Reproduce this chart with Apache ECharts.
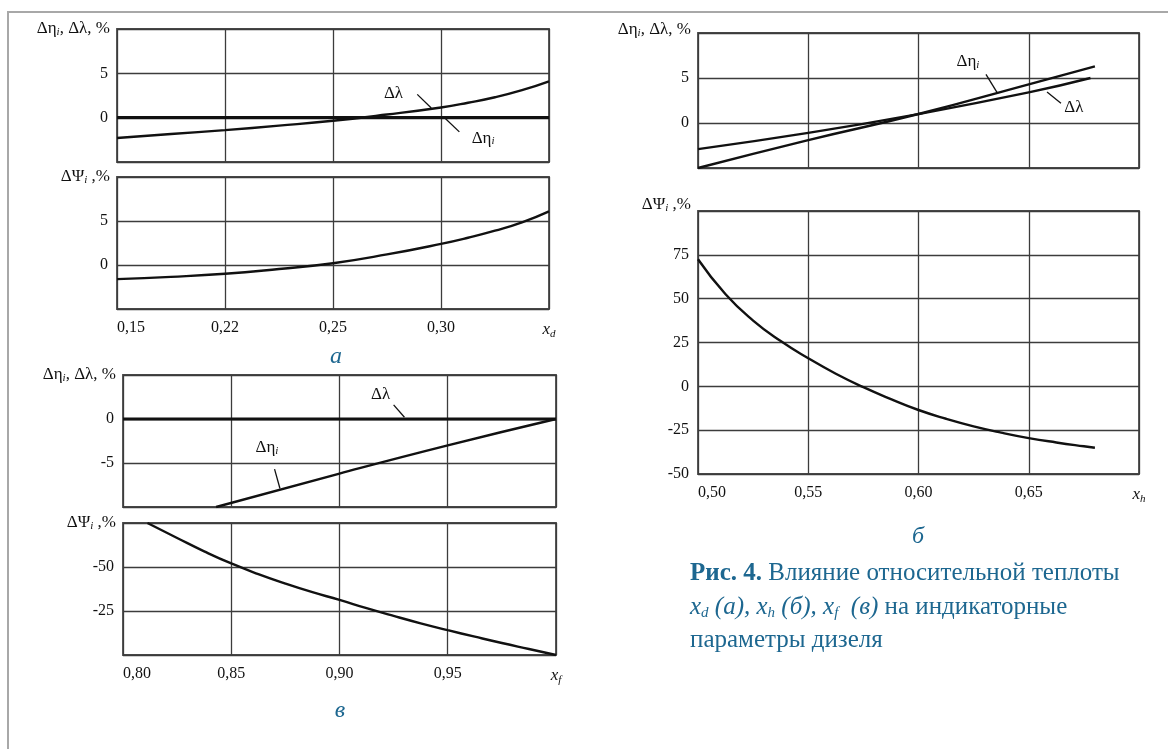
<!DOCTYPE html>
<html>
<head>
<meta charset="utf-8">
<script src="https://cdn.jsdelivr.net/npm/echarts@6/dist/echarts.min.js"></script>
<style>
  html, body { margin: 0; padding: 0; background: #fff; }
  #chart { width: 1168px; height: 749px; }
</style>
</head>
<body>
<div id="chart"></div>
<script>
// ---- Panel а: influence of x_d (grid positions 0..4 carry the tick labels below)
const xdTickLabels = ['0,15', '0,22', '0,25', '0,30'];
const xdLambda = [[0, -2.3], [0.5, -1.85], [1, -1.4], [1.5, -0.9], [2, -0.35], [2.5, 0.35], [3, 1.15], [3.25, 1.68], [3.5, 2.3], [3.75, 3.1], [4, 4.1]];
const xdEta = [[0, 0], [4, 0]];
const xdPsi = [[0, -1.6], [0.5, -1.35], [1, -1.0], [1.5, -0.45], [2, 0.2], [2.5, 1.2], [3, 2.4], [3.25, 3.1], [3.5, 3.9], [3.75, 4.85], [4, 6.1]];

// ---- Panel б: influence of x_h
const xhEta = [[0.50, -5.0], [0.55, -1.9], [0.60, 1.0], [0.65, 4.3], [0.68, 6.3]];
const xhLambda = [[0.50, -2.9], [0.55, -1.1], [0.60, 1.0], [0.65, 3.4], [0.678, 5.0]];
const xhPsi = [[0.50, 72.5], [0.5125, 52.5], [0.525, 37.5], [0.5375, 25.8], [0.55, 16], [0.5625, 7.2], [0.575, -0.5],
  [0.5875, -7.3], [0.60, -13.5], [0.6125, -18.5], [0.625, -22.8], [0.6375, -26.4], [0.65, -29.5], [0.6625, -32.0], [0.675, -34.2], [0.68, -35]];

// ---- Panel в: influence of x_f
const xfLambda = [[0.80, 0], [1.00, 0]];
const xfEta = [[0.843, -10], [0.90, -6.2], [0.95, -3.0], [1.00, 0]];
const xfPsi = [[0.8113, -75], [0.825, -66.5], [0.8375, -58.9], [0.85, -52.0], [0.8625, -46.0], [0.875, -40.6], [0.8875, -35.7],
  [0.90, -31.3], [0.9125, -26.6], [0.925, -22.2], [0.9375, -18.0], [0.95, -14.1], [0.9625, -10.4], [0.975, -6.8], [0.9875, -3.4], [1.00, 0]];

const SERIF = "'Liberation Serif', 'DejaVu Serif', serif";
const INK = '#111';
const GRIDC = '#3c3c3c';
const BLUE = '#1d6790';

const chart = echarts.init(document.getElementById('chart'), null, { renderer: 'canvas' });

const richBase = {
  t: { fontFamily: SERIF, fontSize: 17, color: INK },
  s: { fontFamily: SERIF, fontSize: 11, fontStyle: 'italic', color: INK, padding: [7, 0, 0, 0] },
  x: { fontFamily: SERIF, fontSize: 17, fontStyle: 'italic', color: INK },
  xs: { fontFamily: SERIF, fontSize: 11, fontStyle: 'italic', color: INK, padding: [9, 0, 0, 0] }
};

const gridDefs = [
  { left: 117, top: 29, width: 432, height: 133 },   // а, upper
  { left: 117, top: 177, width: 432, height: 132 },  // а, lower
  { left: 123, top: 375, width: 433, height: 132 },  // в, upper
  { left: 123, top: 523, width: 433, height: 132 },  // в, lower
  { left: 698, top: 33, width: 441, height: 135 },   // б, upper
  { left: 698, top: 211, width: 441, height: 263 }   // б, lower
];

function xAxisFor(gridIndex, min, max, interval, showLabels, fmt) {
  return {
    type: 'value', gridIndex, min, max, interval,
    axisLine: { show: false }, axisTick: { show: false },
    splitLine: { show: true, lineStyle: { color: GRIDC, width: 1.3 } },
    axisLabel: {
      show: showLabels, margin: 11, fontFamily: SERIF, fontSize: 16, color: INK,
      alignMinLabel: 'left', formatter: fmt, rich: richBase
    }
  };
}

function yAxisFor(gridIndex, min, max, interval, nameRich, opts, labelOpts) {
  return Object.assign({
    type: 'value', gridIndex, min, max, interval,
    axisLine: { show: false }, axisTick: { show: false },
    splitLine: { show: true, lineStyle: { color: GRIDC, width: 1.3 } },
    axisLabel: Object.assign({
      margin: 9, fontFamily: SERIF, fontSize: 16, color: INK,
      showMinLabel: false, showMaxLabel: false
    }, labelOpts || {}),
    name: nameRich, nameLocation: 'end', nameGap: 0, nameMoveOverlap: false,
    nameTextStyle: { align: 'right', verticalAlign: 'middle', padding: [0, 7, 0, 0], rich: richBase }
  }, opts || {});
}

const nameEtaLam = '{t|Δη}{s|i}{t|, Δλ, %}';
const namePsi = '{t|ΔΨ}{s|i}{t| ,%}';

const fmtXd = v => (v === 4 ? '{x|x}{xs|d}' : (xdTickLabels[v] || ''));
const fmtXh = v => (Math.abs(v - 0.7) < 1e-6 ? '{x|x}{xs|h}' : v.toFixed(2).replace('.', ','));
const fmtXf = v => (Math.abs(v - 1.0) < 1e-6 ? '{x|x}{xs|f}' : v.toFixed(2).replace('.', ','));

function curve(xi, data, width, extra) {
  return Object.assign({
    type: 'line', xAxisIndex: xi, yAxisIndex: xi, data,
    smooth: 0.5, showSymbol: false, symbol: 'none', silent: true,
    lineStyle: { color: INK, width: width || 2.4 }, z: 5
  }, extra || {});
}

function callout(text, at, from, to) {
  return {
    markLine: {
      silent: true, symbol: ['none', 'none'], animation: false,
      lineStyle: { color: INK, width: 1.3, type: 'solid' }, label: { show: false },
      data: [[{ coord: from }, { coord: to }]]
    },
    markPoint: {
      silent: true, symbol: 'circle', symbolSize: 0, animation: false,
      label: { show: true, position: 'inside', formatter: text, rich: richBase, color: INK },
      data: [{ coord: at }]
    }
  };
}

function gridBox(g) {
  return Object.assign({ show: true, borderColor: '#4a4a4a', borderWidth: 1.8, backgroundColor: 'transparent' }, g);
}

const option = {
  animation: false,
  backgroundColor: '#fff',
  grid: gridDefs.map(gridBox),
  xAxis: [
    xAxisFor(0, 0, 4, 1, false, fmtXd),
    xAxisFor(1, 0, 4, 1, true, fmtXd),
    xAxisFor(2, 0.8, 1.0, 0.05, false, fmtXf),
    xAxisFor(3, 0.8, 1.0, 0.05, true, fmtXf),
    xAxisFor(4, 0.5, 0.7, 0.05, false, fmtXh),
    xAxisFor(5, 0.5, 0.7, 0.05, true, fmtXh)
  ],
  yAxis: [
    yAxisFor(0, -5, 10, 5, nameEtaLam),
    yAxisFor(1, -5, 10, 5, namePsi),
    yAxisFor(2, -10, 5, 5, nameEtaLam),
    yAxisFor(3, -75, 0, 25, namePsi, { inverse: true, nameLocation: 'start' }),
    yAxisFor(4, -5, 10, 5, nameEtaLam, { nameGap: 3 }),
    yAxisFor(5, -50, 100, 25, namePsi, { nameGap: 6 }, { showMinLabel: true })
  ],
  series: [
    curve(0, xdLambda, 2.4, callout('{t|Δλ}', [2.56, 2.74], [2.78, 2.63], [2.91, 1.1])),
    curve(0, xdEta, 3.2, callout('{t|Δη}{s|i}', [3.39, -2.3], [3.04, -0.1], [3.17, -1.6])),
    curve(1, xdPsi, 2.4),
    curve(2, xfLambda, 3.2, callout('{t|Δλ}', [0.919, 2.73], [0.925, 1.6], [0.930, 0.2])),
    curve(2, xfEta, 2.4, callout('{t|Δη}{s|i}', [0.8665, -3.2], [0.870, -5.7], [0.8725, -7.9])),
    curve(3, xfPsi, 2.4),
    curve(4, xhEta, 2.4, callout('{t|Δη}{s|i}', [0.6224, 6.8], [0.6306, 5.4], [0.6356, 3.4])),
    curve(4, xhLambda, 2.4, callout('{t|Δλ}', [0.6705, 1.67], [0.6583, 3.44], [0.6646, 2.2])),
    curve(5, xhPsi, 2.4)
  ],
  graphic: [
    // page frame
    { type: 'polyline', silent: true, shape: { points: [[8, 749], [8, 12], [1168, 12]] },
      style: { stroke: '#a8a8a8', lineWidth: 2, fill: null } },
    // panel letters
    { type: 'text', silent: true, x: 336, y: 357,
      style: { text: 'а', font: 'italic 24px ' + SERIF, fill: BLUE, align: 'center', verticalAlign: 'middle' } },
    { type: 'text', silent: true, x: 918, y: 537,
      style: { text: 'б', font: 'italic 24px ' + SERIF, fill: BLUE, align: 'center', verticalAlign: 'middle' } },
    { type: 'text', silent: true, x: 340, y: 711,
      style: { text: 'в', font: 'italic 24px ' + SERIF, fill: BLUE, align: 'center', verticalAlign: 'middle' } },
    // figure caption
    { type: 'text', silent: true, x: 690, y: 557,
      style: {
        text: '{b|Рис. 4.}{r| Влияние относительной теплоты}\n' +
              '{i|x}{is|d}{i| (а), x}{is|h}{i| (б), x}{is|f}{i|  (в)}{r| на индикаторные}\n' +
              '{r|параметры дизеля}',
        align: 'left', verticalAlign: 'top',
        rich: {
          b: { fontFamily: SERIF, fontSize: 25, fontWeight: 'bold', fill: BLUE, lineHeight: 33.5 },
          r: { fontFamily: SERIF, fontSize: 25, fill: BLUE, lineHeight: 33.5 },
          i: { fontFamily: SERIF, fontSize: 25, fontStyle: 'italic', fill: BLUE, lineHeight: 33.5 },
          is: { fontFamily: SERIF, fontSize: 15, fontStyle: 'italic', fill: BLUE, lineHeight: 33.5, padding: [12, 0, 0, 0] }
        }
      } }
  ]
};

chart.setOption(option);
</script>
</body>
</html>
